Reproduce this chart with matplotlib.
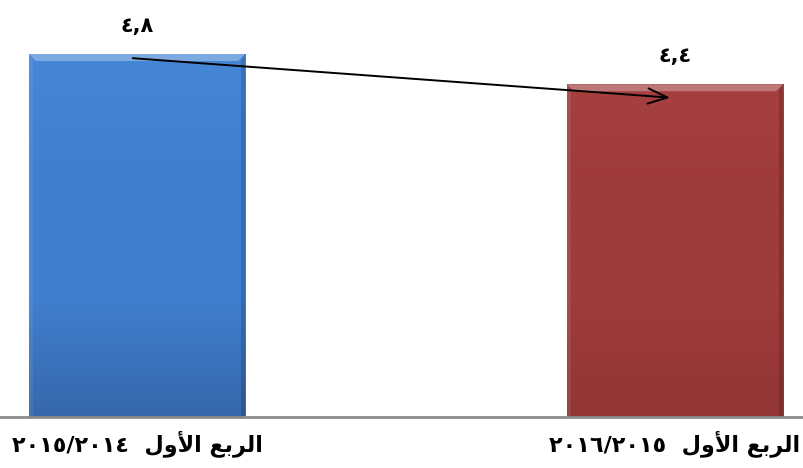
import numpy as np
import matplotlib
matplotlib.use("Agg")
import matplotlib.pyplot as plt
from matplotlib.patches import Polygon
from matplotlib.colors import LinearSegmentedColormap

# data
categories = ["الربع الأول  ٢٠١٥/٢٠١٤", "الربع الأول  ٢٠١٦/٢٠١٥"]
values = [4.8, 4.4]
value_labels = ["٤,٨", "٤,٤"]
bar_colors = [("#4686d6", "#3f7fcf", "#3767aa"), ("#a5403f", "#9e3b3b", "#923636")]

# matplotlib has no Arabic shaping, so map letters to presentation forms
FORMS = {
    'ا': ('\uFE8D', '\uFE8E', None, None),
    'أ': ('\uFE83', '\uFE84', None, None),
    'ر': ('\uFEAD', '\uFEAE', None, None),
    'و': ('\uFEED', '\uFEEE', None, None),
    'ب': ('\uFE8F', '\uFE90', '\uFE91', '\uFE92'),
    'ع': ('\uFEC9', '\uFECA', '\uFECB', '\uFECC'),
    'ل': ('\uFEDD', '\uFEDE', '\uFEDF', '\uFEE0'),
}
LAM_ALEF = {'ا': ('\uFEFB', '\uFEFC'), 'أ': ('\uFEF7', '\uFEF8')}


def shape_word(word):
    units = []
    i = 0
    while i < len(word):
        c = word[i]
        if c == 'ل' and i + 1 < len(word) and word[i + 1] in LAM_ALEF:
            units.append(('lig', word[i + 1]))
            i += 2
        else:
            units.append(('ch', c))
            i += 1
    out = []
    for k, (kind, c) in enumerate(units):
        prev_joins = k > 0 and units[k - 1][0] == 'ch' and FORMS[units[k - 1][1]][2] is not None
        if kind == 'lig':
            out.append(LAM_ALEF[c][1 if prev_joins else 0])
            continue
        iso, fin, ini, med = FORMS[c]
        next_ok = ini is not None and k + 1 < len(units)
        if prev_joins and next_ok:
            out.append(med)
        elif prev_joins:
            out.append(fin)
        elif next_ok:
            out.append(ini)
        else:
            out.append(iso)
    return ''.join(reversed(out))


def visual(text):
    tokens = text.split(' ')
    shaped = [shape_word(t) if any(c in FORMS for c in t) else t for t in tokens]
    return ' '.join(reversed(shaped))


fig = plt.figure(figsize=(8.04, 4.68), dpi=100)
ax = fig.add_axes([0, 0.109, 1, 0.891])
x = np.arange(len(values))
width = 0.402
xlim = (-0.2546, 1.2398)
ylim = (0, 5.514)
ax.axis('off')

# pixel -> data scale for bevel sizes
px_x = (xlim[1] - xlim[0]) / 804.0
px_y = (ylim[1] - ylim[0]) / 417.0

for xi, v, (c_top, c_mid, c_bot) in zip(x, values, bar_colors):
    x0, x1 = xi - width / 2, xi + width / 2
    bars = ax.bar(xi, v, width=width, color=c_mid, edgecolor='none', zorder=2)
    patch = bars[0]
    cmap = LinearSegmentedColormap.from_list('g', [c_bot, c_mid, c_mid, c_top])
    grad = np.linspace(0, 1, 256).reshape(-1, 1)
    im = ax.imshow(grad, extent=[x0, x1, -3 * px_y, v], origin='lower', aspect='auto',
                   cmap=cmap, zorder=2.1, interpolation='bicubic')
    im.set_clip_path(patch)
    d = 7
    # top bevel highlight
    ax.add_patch(Polygon([(x0, v), (x1, v), (x1 - d * px_x, v - d * px_y), (x0 + d * px_x, v - d * px_y)],
                         closed=True, facecolor='white', alpha=0.3, edgecolor='none', zorder=2.2))
    # right side shade
    ax.add_patch(Polygon([(x1, v), (x1, -3 * px_y), (x1 - 4 * px_x, -3 * px_y), (x1 - 4 * px_x, v - d * px_y)],
                         closed=True, facecolor='black', alpha=0.15, edgecolor='none', zorder=2.2))
    # left side light
    ax.add_patch(Polygon([(x0, v), (x0, -3 * px_y), (x0 + 4 * px_x, -3 * px_y), (x0 + 4 * px_x, v - d * px_y)],
                         closed=True, facecolor='white', alpha=0.08, edgecolor='none', zorder=2.2))

ax.set_xlim(*xlim)
ax.set_ylim(*ylim)

for xi, v, lab in zip(x, values, value_labels):
    ax.annotate(lab, (xi, v), xytext=(0, 20), textcoords='offset points', ha='center', va='center',
                fontsize=15, fontweight='bold', family=['DejaVu Sans'])

# baseline
ax.axhline(0, color='#8c8c8c', linewidth=2, zorder=3, clip_on=False)

# arrow between the two bars
ax.annotate('', xy=(x[1] - 0.004, values[1] - 0.18), xytext=(x[0] - 0.013, values[0] - 0.053),
            arrowprops=dict(arrowstyle='->,head_length=1.4,head_width=0.55', color='black', lw=1.4),
            zorder=4)

for xi, cat in zip(x, categories):
    fig.text(ax.transData.transform((xi, 0))[0] / fig.dpi / 8.04, 0.053, visual(cat),
             ha='center', va='center', fontsize=16, fontweight='bold', family=['DejaVu Sans'])

fig.savefig('out.png', dpi=100, facecolor='white')
